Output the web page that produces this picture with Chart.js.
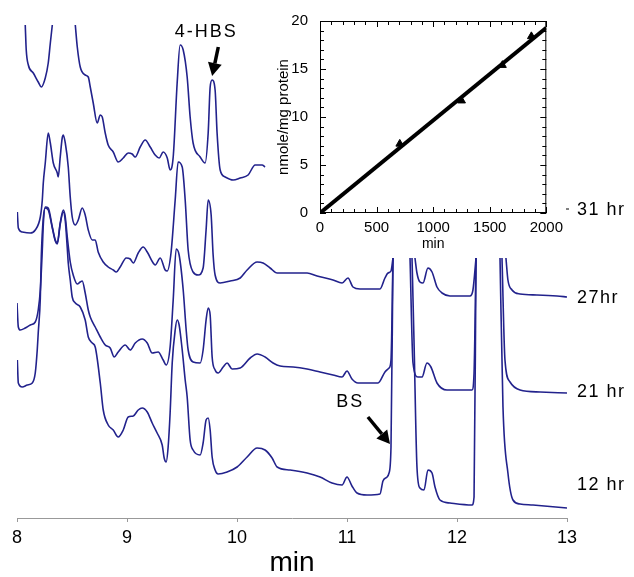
<!DOCTYPE html>
<html>
<head>
<meta charset="utf-8">
<script src="https://cdn.jsdelivr.net/npm/chart.js@4.4.1/dist/chart.umd.min.js"></script>
<style>
  html, body { margin: 0; padding: 0; background: #fff; }
  #wrap { position: relative; width: 634px; height: 577px; }
  #main { position: absolute; left: 0; top: 0; }
  #inset { position: absolute; left: 262px; top: 0; }
</style>
</head>
<body>
<div id="wrap">
  <canvas id="main" width="634" height="577"></canvas>
  <canvas id="inset" width="307" height="262"></canvas>
</div>
<script>
// chromatogrammes (temps en min, signal empilé en unités arbitraires), null = hors échelle
var trace31 = [[8.075,493],[8.084,468],[8.103,453],[8.148,445],[8.193,436],[8.221,431],[8.257,440],[8.284,455],[8.303,475],[8.321,493],[8.42,null],
  [8.530,493],[8.548,471],[8.575,451],[8.620,443],[8.648,441],[8.666,431],[8.693,415],[8.729,395],[8.757,403],[8.775,401],[8.802,385],[8.829,373],[8.875,366],
  [8.920,356],[8.966,360],[9.011,365],[9.047,364],[9.075,361],[9.120,371],[9.166,378],[9.211,371],[9.256,363],[9.293,360],[9.329,366],[9.366,360],[9.392,348],
  [9.420,361],[9.456,435],[9.483,473],[9.511,468],[9.547,441],[9.574,401],[9.601,375],[9.665,361],[9.710,355],[9.738,385],[9.756,431],[9.774,438],[9.801,428],
  [9.819,385],[9.847,348],[9.892,341],[9.965,338],[10.029,340],[10.101,343],[10.165,353],[10.228,353],[10.255,351]];

var trace27 = [[8.003,306],[8.012,290],[8.048,286],[8.121,285],[8.166,288],[8.212,301],[8.230,318],[8.239,335],[8.257,355],[8.284,385],[8.303,375],[8.330,355],
  [8.366,345],[8.375,341],[8.393,361],[8.411,380],[8.421,383],[8.439,375],[8.466,351],[8.484,321],[8.502,301],[8.530,293],[8.557,298],[8.593,310],[8.620,303],
  [8.648,288],[8.684,278],[8.711,278],[8.738,266],[8.784,256],[8.829,251],[8.875,248],[8.902,246],[8.938,251],[8.993,260],[9.029,259],[9.057,255],[9.102,265],
  [9.147,271],[9.184,266],[9.238,255],[9.256,253],[9.302,260],[9.347,248],[9.365,247],[9.400,265],[9.438,318],[9.465,356],[9.502,351],[9.529,318],[9.556,268],
  [9.601,246],[9.647,243],[9.692,250],[9.719,288],[9.738,318],[9.765,303],[9.783,263],[9.801,243],[9.847,235],[9.938,237],[10.029,240],[10.092,248],[10.183,256],
  [10.237,255],[10.301,250],[10.365,245],[10.483,245],[10.637,245],[10.728,242],[10.873,238],[10.955,235],[11.009,240],[11.054,231],[11.118,229],[11.300,229],
  [11.345,240],[11.373,245],[11.400,247],[11.418,260],[11.5,null],[11.618,260],[11.636,245],[11.663,236],[11.691,235],[11.736,250],[11.773,246],[11.818,231],
  [11.864,225],[11.936,222],[12.118,222],[12.145,228],[12.173,260],[12.3,null],[12.445,260],[12.463,238],[12.500,228],[12.573,224],[12.727,223],[12.909,222],[13.000,221]];

var trace21 = [[8.000,215],[8.012,191],[8.030,188],[8.075,190],[8.121,193],[8.166,196],[8.193,208],[8.212,228],[8.230,268],[8.239,293],[8.257,311],[8.284,310],
  [8.321,291],[8.348,278],[8.366,275],[8.393,295],[8.421,308],[8.439,301],[8.457,281],[8.484,256],[8.511,243],[8.548,234],[8.575,236],[8.593,237],[8.620,225],
  [8.648,208],[8.666,201],[8.711,191],[8.757,181],[8.802,173],[8.847,170],[8.884,161],[8.920,166],[8.984,173],[9.029,168],[9.075,175],[9.138,179],[9.184,175],
  [9.229,165],[9.283,166],[9.329,158],[9.356,153],[9.392,171],[9.420,218],[9.447,269],[9.474,263],[9.511,228],[9.538,188],[9.556,168],[9.601,156],[9.665,155],
  [9.692,168],[9.719,198],[9.738,210],[9.756,203],[9.774,161],[9.801,148],[9.828,145],[9.874,151],[9.910,155],[9.956,149],[10.029,150],[10.120,160],[10.183,164],
  [10.255,161],[10.328,155],[10.392,152],[10.510,151],[10.637,149],[10.755,146],[10.873,143],[10.955,141],[11.000,147],[11.045,139],[11.100,135],[11.282,135],
  [11.345,146],[11.382,150],[11.400,158],[11.418,260],[11.5,null],[11.573,260],[11.600,155],[11.645,141],[11.682,141],[11.727,155],[11.763,151],[11.818,135],
  [11.909,128],[12.136,128],[12.155,145],[12.173,260],[12.3,null],[12.409,260],[12.436,158],[12.482,136],[12.573,128],[12.755,126],[13.000,125]];

var trace12 = [[8.003,158],[8.012,135],[8.048,131],[8.094,133],[8.139,135],[8.166,145],[8.184,168],[8.193,185],[8.212,220],[8.221,262],[8.239,300],[8.257,310],
  [8.284,308],[8.321,290],[8.348,277],[8.366,274],[8.393,294],[8.421,306],[8.439,297],[8.457,270],[8.466,255],[8.484,238],[8.502,221],[8.530,215],[8.575,211],[8.620,198],
  [8.648,181],[8.684,175],[8.711,171],[8.757,135],[8.784,108],[8.829,93],[8.875,88],[8.920,81],[8.966,88],[9.011,101],[9.057,102],[9.102,108],[9.138,110],
  [9.184,106],[9.229,95],[9.274,85],[9.320,73],[9.338,60],[9.356,56],[9.374,71],[9.392,105],[9.411,155],[9.438,188],[9.456,198],[9.474,193],[9.502,168],
  [9.529,138],[9.547,121],[9.574,78],[9.601,68],[9.665,63],[9.692,75],[9.719,98],[9.738,100],[9.756,88],[9.774,61],[9.801,48],[9.828,44],[9.910,46],[10.001,51],
  [10.092,61],[10.183,70],[10.255,68],[10.319,60],[10.365,51],[10.483,48],[10.637,45],[10.755,41],[10.864,35],[10.955,33],[11.000,41],[11.045,32],[11.091,25],
  [11.182,23],[11.300,24],[11.327,37],[11.364,41],[11.382,45],[11.400,71],[11.418,260],[11.5,null],[11.591,260],[11.609,178],[11.636,51],[11.663,30],[11.700,28],
  [11.736,48],[11.773,45],[11.800,31],[11.845,18],[11.936,15],[12.136,13],[12.155,21],[12.173,260],[12.3,null],[12.391,260],[12.418,111],[12.463,45],[12.509,18],
  [12.573,14],[12.691,13],[13.000,10]];

var traceNames = ['31 hr', '27hr', '21 hr', '12 hr'];
var traceLabelY = [308, 220, 126, 33];
var mainTicks = [8, 9, 10, 11, 12, 13];

// annotations des pics
var peakNames = ['4-HBS', 'BS'];
var peakTextX = [9.72, 11.03];
var peakTextY = [486, 116];
var arrowFrom = [[9.83, 471], [11.19, 101]];
var arrowTo = [[9.774, 442], [11.391, 74]];

// encart : production en fonction du temps
var insetMin = [705, 1251, 1612, 1868];
var insetVal = [7.2, 11.7, 15.4, 18.4];
var fitMin = [0, 2000];
var fitVal = [0, 19.3];

var FONT = '"Liberation Sans", Arial, sans-serif';
var BLUE = '#22228c';

function toPoints(tr) {
    return tr.map(function(p) { return {x: p[0], y: p[1]}; });
}

function drawArrow(ctx, x1, y1, x2, y2) {
    var ang = Math.atan2(y2 - y1, x2 - x1);
    var head = 13, half = 7;
    var bx = x2 - head * Math.cos(ang), by = y2 - head * Math.sin(ang);
    ctx.lineWidth = 3.5;
    ctx.beginPath();
    ctx.moveTo(x1, y1);
    ctx.lineTo(bx, by);
    ctx.stroke();
    ctx.beginPath();
    ctx.moveTo(x2, y2);
    ctx.lineTo(bx + half * Math.sin(ang), by - half * Math.cos(ang));
    ctx.lineTo(bx - half * Math.sin(ang), by + half * Math.cos(ang));
    ctx.closePath();
    ctx.fill();
}

// Plugin pour les étiquettes et les flèches
var annotatePlugin = {
    id: 'annotate',
    afterDatasetsDraw: function(chart) {
        var ctx = chart.ctx, x = chart.scales.x, y = chart.scales.y, area = chart.chartArea;
        ctx.save();
        ctx.fillStyle = '#000';
        ctx.strokeStyle = '#000';
        ctx.font = '18px ' + FONT;
        ctx.letterSpacing = '1.5px';
        ctx.textBaseline = 'middle';
        ctx.textAlign = 'left';
        for (var i = 0; i < traceNames.length; i++) {
            ctx.fillText(traceNames[i], area.right + 10, y.getPixelForValue(traceLabelY[i]));
        }
        // petit trait devant 31 hr
        ctx.lineWidth = 1;
        ctx.beginPath();
        ctx.moveTo(area.right - 1, y.getPixelForValue(traceLabelY[0]) - 1);
        ctx.lineTo(area.right + 2, y.getPixelForValue(traceLabelY[0]) - 1);
        ctx.stroke();

        ctx.textAlign = 'center';
        ctx.letterSpacing = '2px';
        for (var j = 0; j < peakNames.length; j++) {
            ctx.fillText(peakNames[j], x.getPixelForValue(peakTextX[j]), y.getPixelForValue(peakTextY[j]));
            drawArrow(ctx,
                x.getPixelForValue(arrowFrom[j][0]), y.getPixelForValue(arrowFrom[j][1]),
                x.getPixelForValue(arrowTo[j][0]), y.getPixelForValue(arrowTo[j][1]));
        }
        ctx.restore();
    }
};

// Plugin pour le cadre et les graduations intérieures de l'encart
var insetFramePlugin = {
    id: 'insetFrame',
    afterDraw: function(chart) {
        var ctx = chart.ctx, x = chart.scales.x, y = chart.scales.y, a = chart.chartArea;
        ctx.save();
        ctx.strokeStyle = '#000';
        ctx.lineWidth = 1;
        ctx.strokeRect(a.left + 0.5, a.top + 0.5, a.right - a.left - 1, a.bottom - a.top - 1);
        ctx.beginPath();
        for (var v = 0; v <= 2000; v += 100) {
            var px = Math.round(x.getPixelForValue(v)) + 0.5;
            var len = (v % 500 === 0) ? 6 : 4;
            ctx.moveTo(px, a.bottom); ctx.lineTo(px, a.bottom - len);
            ctx.moveTo(px, a.top); ctx.lineTo(px, a.top + len);
        }
        for (var w = 0; w <= 20; w += 1) {
            var py = Math.round(y.getPixelForValue(w)) + 0.5;
            var l2 = (w % 5 === 0) ? 6 : 4;
            ctx.moveTo(a.left, py); ctx.lineTo(a.left + l2, py);
            ctx.moveTo(a.right, py); ctx.lineTo(a.right - l2, py);
        }
        ctx.stroke();
        ctx.restore();
    }
};

var mainSets = [trace31, trace27, trace21, trace12].map(function(tr) {
    return {
        data: toPoints(tr),
        borderColor: BLUE,
        borderWidth: 1.6,
        pointRadius: 0,
        cubicInterpolationMode: 'monotone',
        spanGaps: false
    };
});

new Chart(document.getElementById('main'), {
    type: 'line',
    data: { datasets: mainSets },
    options: {
        responsive: false,
        animation: false,
        layout: { padding: { left: 17, right: 67, top: 0, bottom: 0 } },
        plugins: { legend: { display: false }, tooltip: { enabled: false } },
        scales: {
            x: {
                type: 'linear',
                min: 8, max: 13,
                afterBuildTicks: function(s) { s.ticks = mainTicks.map(function(v) { return {value: v}; }); },
                afterFit: function(s) { s.height = 59; },
                ticks: { color: '#000', font: { size: 18, family: FONT }, padding: 5 },
                grid: { drawOnChartArea: false, tickLength: 4, color: '#999' },
                border: { color: '#999' },
                title: { display: true, text: 'min', color: '#000', font: { size: 28, family: FONT, lineHeight: 1 }, padding: 0 }
            },
            y: { display: false, min: 0, max: 518 }
        }
    },
    plugins: [annotatePlugin]
});

new Chart(document.getElementById('inset'), {
    type: 'scatter',
    data: {
        datasets: [
            {
                type: 'line',
                data: fitMin.map(function(v, i) { return {x: v, y: fitVal[i]}; }),
                borderColor: '#000',
                borderWidth: 4,
                pointRadius: 0
            },
            {
                data: insetMin.map(function(v, i) { return {x: v, y: insetVal[i]}; }),
                pointStyle: 'triangle',
                pointRadius: 4.5,
                backgroundColor: '#000',
                borderColor: '#000'
            }
        ]
    },
    options: {
        responsive: false,
        animation: false,
        layout: { padding: { left: 0, right: 19, top: 9, bottom: 0 } },
        plugins: { legend: { display: false }, tooltip: { enabled: false } },
        scales: {
            x: {
                min: 0, max: 2000,
                afterFit: function(s) { s.height = 49; },
                ticks: { stepSize: 500, color: '#000', font: { size: 15, family: FONT }, padding: 6,
                         callback: function(v) { return String(v); } },
                grid: { display: false, drawTicks: false },
                border: { display: false },
                title: { display: true, text: 'min', color: '#000', font: { size: 14, family: FONT, lineHeight: 1.2 }, padding: { top: 0, bottom: 9 } }
            },
            y: {
                min: 0, max: 20,
                afterFit: function(s) { s.width = 58; },
                ticks: { stepSize: 5, color: '#000', font: { size: 15, family: FONT }, padding: 12 },
                grid: { display: false, drawTicks: false },
                border: { display: false },
                title: { display: true, text: 'nmole/mg protein', color: '#000', font: { size: 15, family: FONT, lineHeight: 1.2 }, padding: { top: 13, bottom: 0 } }
            }
        }
    },
    plugins: [insetFramePlugin]
});
</script>
</body>
</html>
